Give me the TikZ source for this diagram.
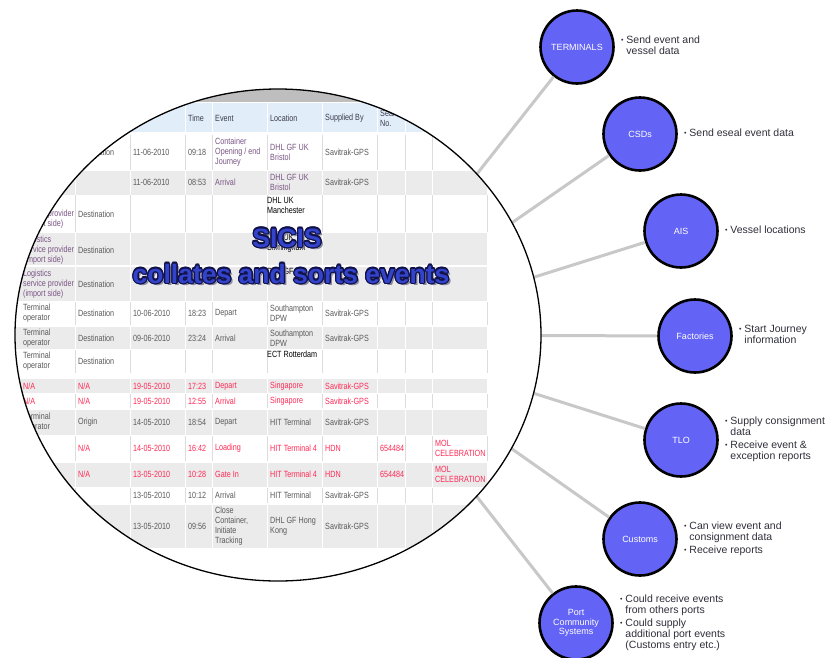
\documentclass[tikz,border=0pt]{standalone}
\usepackage{fontspec}
\setmainfont{Liberation Sans}
\newfontfamily\tablefont[FakeStretch=0.8]{Liberation Sans}
\usetikzlibrary{shapes.geometric, positioning}
\definecolor{stationblue}{HTML}{6363F5}
\definecolor{linkgray}{HTML}{C8C8C8}
\definecolor{capgray}{HTML}{BEBEBE}
\definecolor{rowgray}{HTML}{EBEBEB}
\definecolor{rowline}{HTML}{DCDCDC}
\definecolor{headblue}{HTML}{E1EDF9}
\definecolor{celltext}{HTML}{5A5A5A}
\definecolor{headtext}{HTML}{3C3C50}
\definecolor{linkpurple}{HTML}{7A5585}
\definecolor{alertred}{HTML}{FF2A55}
\definecolor{titleblue}{HTML}{3344CC}
\definecolor{titlenavy}{HTML}{12124A}
\definecolor{titleshadow}{HTML}{8A8AA0}
\definecolor{notetext}{HTML}{2E2E3A}

\newcommand{\trow}[3][]{%
  \foreach \x/\t in {#3}
    \node[tcell,#1] (t-#2-\x) at (\x,#2) {\t};}
\newcommand{\bul}{\raisebox{0.8pt}{\fontsize{7}{7}\selectfont\textbullet}}

\begin{document}
\begin{tikzpicture}[x=1pt, y=-1pt,
  tcell/.style={anchor=west, inner sep=0pt, align=left, font=\tablefont\fontsize{9}{10}\selectfont, text=celltext},
  head/.style={text=headtext},
  seen/.style={text=linkpurple},
  alert/.style={text=alertred},
  plain/.style={text=black},
  sicis/.style={anchor=base, inner sep=0pt, font=\fontsize{26.5}{28}\selectfont\bfseries},
  station/.style={circle, draw, line width=2.6pt, fill=stationblue, minimum size=73pt, inner sep=1pt,
    text=white, align=center, font=\fontsize{9}{9.5}\selectfont},
  note/.style={inner sep=0pt, text=notetext, font=\fontsize{10.5}{11}\selectfont},
  link/.style={draw=linkgray, line width=3pt}]
  \useasboundingbox (0,0) rectangle (831,657);

  \node[station] (C1) at (577,47) {TERMINALS};
  \node[station] (C2) at (640,134) {CSDs};
  \node[station] (C3) at (681,231) {AIS};
  \node[station] (C4) at (695,336) {Factories};
  \node[station] (C5) at (681,440) {TLO};
  \node[station] (C6) at (640,539) {Customs};
  \node[station] (C7) at (576,623) {Port\\Community\\Systems};

  \node[note, right=6pt of C1] (N1) {\begin{tabular}{@{}l@{\hspace{3pt}}l@{}}
    \bul & Send event and\\ & vessel data\end{tabular}};
  \node[note, right=6pt of C2] (N2) {\begin{tabular}{@{}l@{\hspace{3pt}}l@{}}
    \bul & Send eseal event data\end{tabular}};
  \node[note, right=6pt of C3] (N3) {\begin{tabular}{@{}l@{\hspace{3pt}}l@{}}
    \bul & Vessel locations\end{tabular}};
  \node[note, right=6pt of C4] (N4) {\begin{tabular}{@{}l@{\hspace{3pt}}l@{}}
    \bul & Start Journey\\ & information\end{tabular}};
  \node[note, right=6pt of C5] (N5) {\begin{tabular}{@{}l@{\hspace{3pt}}l@{}}
    \bul & Supply consignment\\ & data\\[2pt]
    \bul & Receive event \&\\ & exception reports\end{tabular}};
  \node[note, right=6pt of C6] (N6) {\begin{tabular}{@{}l@{\hspace{3pt}}l@{}}
    \bul & Can view event and\\ & consignment data\\[2pt]
    \bul & Receive reports\end{tabular}};
  \node[note, right=6pt of C7] (N7) {\begin{tabular}{@{}l@{\hspace{3pt}}l@{}}
    \bul & Could receive events\\ & from others ports\\[2pt]
    \bul & Could supply\\ & additional port events\\ & (Customs entry etc.)\end{tabular}};

  \coordinate (hub) at (350,335);
  \draw[link] (C1) -- (hub);
  \draw[link] (C2) -- (hub);
  \draw[link] (C3) -- (hub);
  \draw[link] (C4) -- (hub);
  \draw[link] (C5) -- (hub);
  \draw[link] (C6) -- (hub);
  \draw[link] (C7) -- (hub);

  \begin{scope}
    \clip (278,335) ellipse [x radius=263, y radius=246];
    \fill[white] (0,0) rectangle (831,657);
    \fill[capgray] (0,0) rectangle (831,101.5);
    \fill[headblue] (0,103) rectangle (487,132);
    \foreach \x in {75,130,185,212,267,322,377,405,432}
      \draw[white, line width=1pt] (\x,103) -- (\x,132);
    \foreach \ya/\yb/\bg/\sep in {135/170/white/rowline, 170/195/rowgray/white, 195/232/white/rowline,
        232/265/rowgray/white, 266/301/rowgray/white, 302/325/white/rowline, 326/349/rowgray/white,
        350/373/white/rowline, 378/393/rowgray/white, 394/408/white/rowline, 409/435/rowgray/white,
        436/461/white/rowline, 462/487/rowgray/white, 488/503/white/rowline, 504/548/rowgray/white}
    {
      \fill[\bg] (0,\ya+0.5) rectangle (487,\yb-0.5);
      \foreach \x in {75,130,185,212,267,322,377,405,432,487}
        \draw[\sep, line width=1pt] (\x,\ya) -- (\x,\yb);
    }

    \trow[head]{118}{188/Time, 215/Event, 270/Location, 325/Supplied By, 380/{Seal\\No.}}
    \trow{152}{78/Destination, 133/11-06-2010, 188/09:18, 325/Savitrak-GPS}
    \trow[seen]{152}{215/{Container\\Opening / end\\Journey}, 270/{DHL GF UK\\Bristol}}
    \trow{182}{133/11-06-2010, 188/08:53, 325/Savitrak-GPS}
    \trow[seen]{182}{215/Arrival, 270/{DHL GF UK\\Bristol}}
    \trow[seen]{214}{23/{Logistics\\service provider\\(import side)}}
    \trow{214}{78/Destination}
    \node[tcell, plain, anchor=north west] (loc1) at (267,197) {DHL UK\\Manchester};
    \trow[seen]{250}{23/{Logistics\\service provider\\(import side)}}
    \trow{250}{78/Destination}
    \node[tcell, plain, anchor=north west] (loc2) at (267,234) {DHL UK\\Birmingham};
    \trow[seen]{284}{23/{Logistics\\service provider\\(import side)}}
    \trow{284}{78/Destination}
    \node[tcell, plain, anchor=north west] (loc3) at (267,268) {DHL GF};
    \trow{313}{23/{Terminal\\operator}, 78/Destination, 133/10-06-2010, 188/18:23, 215/Depart,
      270/{Southampton\\DPW}, 325/Savitrak-GPS}
    \trow{338}{23/{Terminal\\operator}, 78/Destination, 133/09-06-2010, 188/23:24, 215/Arrival,
      270/{Southampton\\DPW}, 325/Savitrak-GPS}
    \trow{361}{23/{Terminal\\operator}, 78/Destination}
    \node[tcell, plain, anchor=north west] (loc4) at (267,351) {ECT Rotterdam};
    \trow[alert]{386}{23/{N/A}, 78/{N/A}, 133/19-05-2010, 188/17:23, 215/Depart, 270/Singapore, 325/Savitrak-GPS}
    \trow[alert]{401}{23/{N/A}, 78/{N/A}, 133/19-05-2010, 188/12:55, 215/Arrival, 270/Singapore, 325/Savitrak-GPS}
    \trow{422}{23/{Terminal\\operator}, 78/Origin, 133/14-05-2010, 188/18:54, 215/Depart,
      270/HIT Terminal, 325/Savitrak-GPS}
    \trow[alert]{448}{78/{N/A}, 133/14-05-2010, 188/16:42, 215/Loading, 270/HIT Terminal 4,
      325/HDN, 380/654484, 435/{MOL\\CELEBRATION}}
    \trow[alert]{474}{78/{N/A}, 133/13-05-2010, 188/10:28, 215/Gate In, 270/HIT Terminal 4,
      325/HDN, 380/654484, 435/{MOL\\CELEBRATION}}
    \trow{495}{133/13-05-2010, 188/10:12, 215/Arrival, 270/HIT Terminal, 325/Savitrak-GPS}
    \trow{526}{133/13-05-2010, 188/09:56, 215/{Close\\Container,\\Initiate\\Tracking},
      270/{DHL GF Hong\\Kong}, 325/Savitrak-GPS}

    \node[sicis, text=titleshadow] (shA) at (289.5,249.5) {SICIS};
    \node[sicis, text=titleshadow] (shB) at (293.5,285.5) {collates and sorts events};
    \foreach \a in {0,30,...,330} {
      \node[sicis, text=titlenavy] (oA\a) at ([shift={(\a:1.3)}]287,247) {SICIS};
      \node[sicis, text=titlenavy] (oB\a) at ([shift={(\a:1.3)}]291,283) {collates and sorts events};
    }
    \node[sicis, text=titleblue] (title) at (287,247) {SICIS};
    \node[sicis, text=titleblue] (subtitle) at (291,283) {collates and sorts events};
  \end{scope}

  \node[ellipse, draw, line width=1.3pt, minimum width=526pt, minimum height=492pt, inner sep=0pt] (E) at (278,335) {};
\end{tikzpicture}
\end{document}
